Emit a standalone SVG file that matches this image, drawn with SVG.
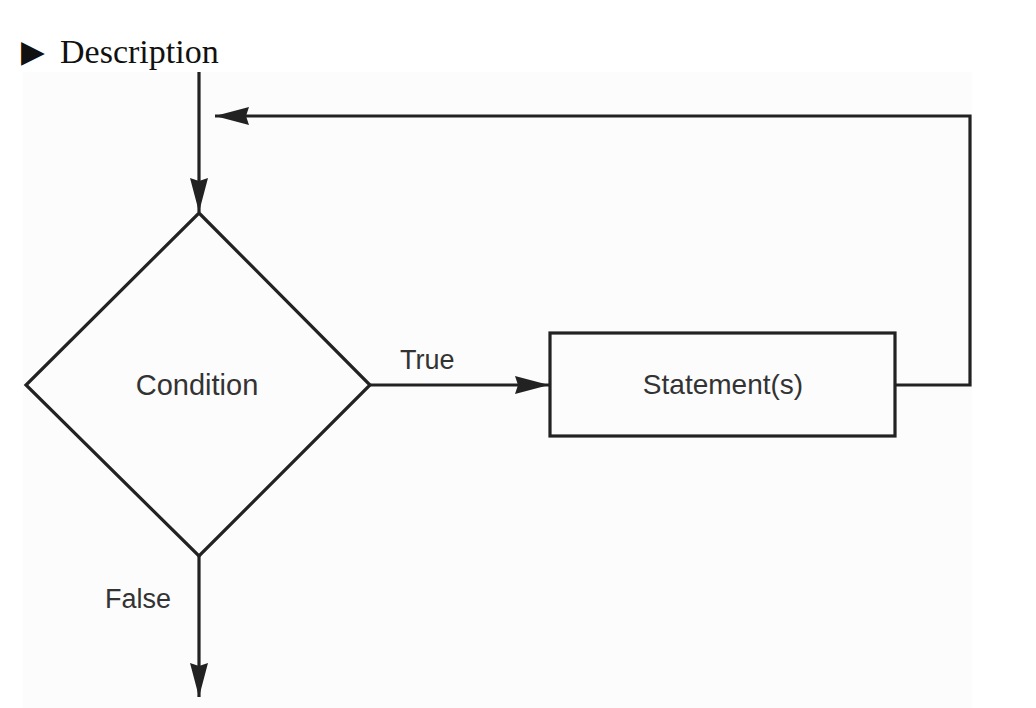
<svg xmlns="http://www.w3.org/2000/svg" width="1036" height="708" viewBox="0 0 1036 708">
  <style>
    .shape { fill: none; stroke: #222; stroke-width: 3.2; }
    .conn { fill: none; stroke: #222; stroke-width: 3.2; }
    .lbl { font-family: "Liberation Sans", Arial, sans-serif; fill: #333; }
    .head { font-family: "Liberation Serif", "Times New Roman", serif; fill: #111; }
  </style>
  <defs>
    <marker id="arrow" markerUnits="userSpaceOnUse" markerWidth="34" markerHeight="20" refX="34" refY="9" orient="auto">
      <path d="M0,0 L34,9 L0,18 L3,9 z" fill="#222"/>
    </marker>
  </defs>
  <rect x="0" y="0" width="1036" height="708" fill="#ffffff"/>
  <rect x="23" y="72" width="949" height="636" fill="#fcfcfc"/>

  <g id="title">
    <text class="head" x="21" y="63" font-size="34"><tspan font-family="DejaVu Sans, sans-serif" font-size="31" dy="-1">▶</tspan><tspan x="60" dy="1">Description</tspan></text>
  </g>

  <g id="connectors">
    <path class="conn" d="M199,72 L199,212" marker-end="url(#arrow)"/>
    <path class="conn" d="M370,385 L549,385" marker-end="url(#arrow)"/>
    <path class="conn" d="M896,385 L970,385 L970,116 L215,116" marker-end="url(#arrow)"/>
    <path class="conn" d="M199,556 L199,697" marker-end="url(#arrow)"/>
    <text class="lbl" x="400" y="369" font-size="27">True</text>
    <text class="lbl" x="105" y="608" font-size="27">False</text>
  </g>

  <g id="condition">
    <polygon class="shape" points="199,213 370,385 199,556 26,385"/>
    <text class="lbl" x="197" y="395" font-size="29" text-anchor="middle">Condition</text>
  </g>

  <g id="statements">
    <rect class="shape" x="550" y="333" width="345" height="103"/>
    <text class="lbl" x="723" y="394" font-size="28" text-anchor="middle">Statement(s)</text>
  </g>
</svg>
